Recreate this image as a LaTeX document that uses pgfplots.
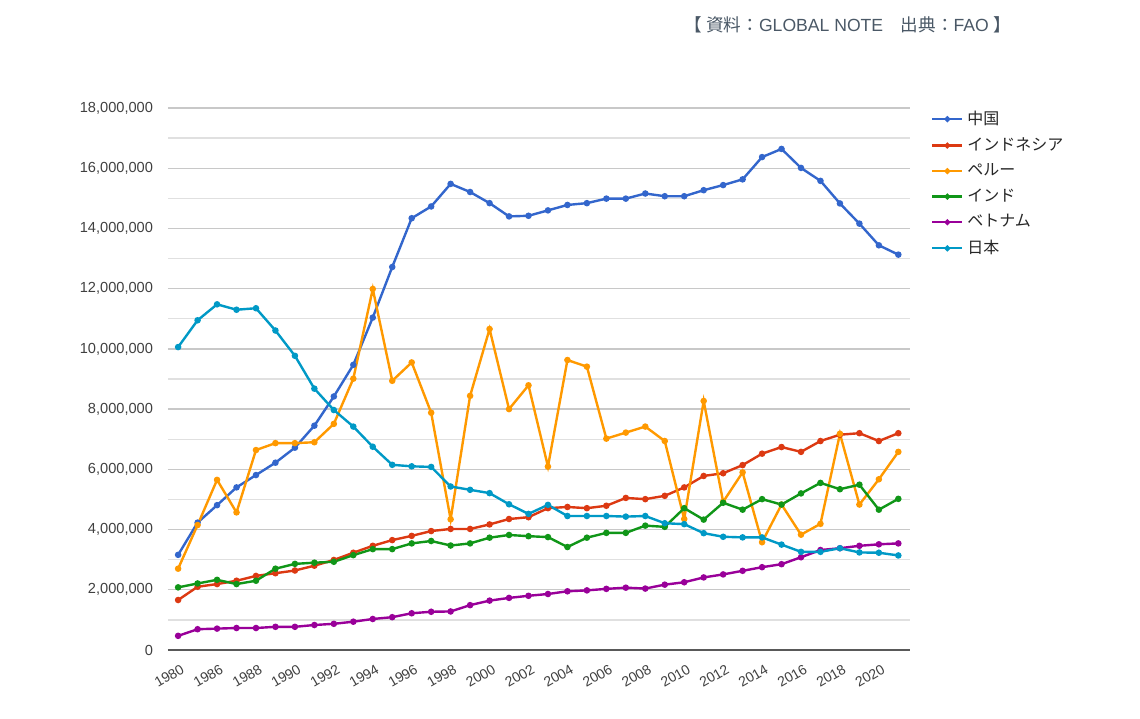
\documentclass[border=0pt]{standalone}
\usepackage{pgfplots}
\usepackage{pgfplotstable}
\pgfplotsset{compat=1.18}
\usepackage{fontspec}
\setmainfont{Liberation Sans}
\newfontfamily\cjk{Noto Sans CJK JP}
\definecolor{cChina}{HTML}{3366CC}
\definecolor{cIndonesia}{HTML}{DC3912}
\definecolor{cPeru}{HTML}{FF9900}
\definecolor{cIndia}{HTML}{109618}
\definecolor{cVietnam}{HTML}{990099}
\definecolor{cJapan}{HTML}{0099C6}
\definecolor{tickgray}{HTML}{404040}
\definecolor{titlegray}{HTML}{4A5866}
\definecolor{gridmajor}{HTML}{C8C8C8}
\definecolor{gridminor}{HTML}{E0E0E0}

\pgfplotstableread{
x China Indonesia Peru India Vietnam Japan
0 3160000 1660000 2700000 2080000 470000 10060000
1 4230000 2100000 4150000 2210000 690000 10950000
2 4810000 2190000 5650000 2330000 710000 11480000
3 5400000 2300000 4570000 2190000 730000 11300000
4 5810000 2460000 6640000 2300000 730000 11350000
5 6220000 2550000 6870000 2700000 770000 10610000
6 6720000 2640000 6870000 2860000 770000 9770000
7 7450000 2800000 6900000 2900000 830000 8680000
8 8420000 2990000 7510000 2930000 870000 7970000
9 9470000 3230000 9010000 3150000 940000 7420000
10 11040000 3460000 11990000 3350000 1030000 6750000
11 12720000 3650000 8940000 3350000 1090000 6150000
12 14340000 3790000 9550000 3540000 1220000 6100000
13 14730000 3950000 7880000 3620000 1270000 6080000
14 15480000 4020000 4340000 3470000 1280000 5430000
15 15210000 4020000 8440000 3540000 1490000 5320000
16 14840000 4170000 10660000 3730000 1640000 5210000
17 14400000 4350000 8000000 3820000 1730000 4840000
18 14420000 4410000 8790000 3780000 1800000 4520000
19 14600000 4710000 6090000 3750000 1860000 4820000
20 14780000 4750000 9630000 3420000 1950000 4450000
21 14840000 4710000 9410000 3730000 1980000 4450000
22 14990000 4790000 7020000 3890000 2030000 4450000
23 14990000 5050000 7220000 3890000 2070000 4430000
24 15160000 5010000 7420000 4130000 2040000 4450000
25 15070000 5120000 6940000 4090000 2170000 4210000
26 15070000 5400000 4350000 4710000 2250000 4180000
27 15270000 5780000 8270000 4330000 2410000 3880000
28 15440000 5870000 4920000 4890000 2510000 3760000
29 15630000 6140000 5900000 4660000 2630000 3740000
30 16370000 6520000 3580000 5010000 2750000 3740000
31 16640000 6740000 4830000 4830000 2850000 3500000
32 16010000 6580000 3830000 5200000 3080000 3260000
33 15580000 6940000 4190000 5550000 3320000 3260000
34 14830000 7150000 7180000 5340000 3380000 3380000
35 14160000 7200000 4830000 5490000 3460000 3240000
36 13440000 6940000 5670000 4660000 3510000 3230000
37 13130000 7200000 6580000 5020000 3540000 3140000
}\data

\begin{document}
\begin{tikzpicture}
\path[use as bounding box] (0pt,0pt) rectangle (570pt,359pt);
\begin{axis}[
  at={(84pt,34pt)}, anchor=south west,
  scale only axis, width=371pt, height=271pt,
  xmin=-0.52, xmax=37.6, ymin=0, ymax=18000000,
  xtick={0,2,...,36},
  xticklabels={1980,1986,1988,1990,1992,1994,1996,1998,2000,2002,2004,2006,2008,2010,2012,2014,2016,2018,2020},
  ytick={0,2000000,...,18000000},
  minor ytick={1000000,3000000,...,17000000},
  scaled y ticks=false,
  yticklabel style={/pgf/number format/fixed, /pgf/number format/1000 sep={,}, /pgf/number format/assume math mode=true},
  ymajorgrids, yminorgrids,
  major grid style={gridmajor, line width=0.7pt},
  minor grid style={gridminor, line width=0.7pt},
  major tick length=0pt, minor tick length=0pt,
  axis x line*=bottom, axis y line*=left,
  y axis line style={draw=none},
  x axis line style={-, draw=black!65, line width=1pt},
  y tick label style={font=\fontsize{7.3}{9}\selectfont, text=tickgray, anchor=east, xshift=-4pt},
  x tick label style={font=\fontsize{7}{8}\selectfont, text=tickgray, rotate=30, anchor=north east, xshift=1pt, yshift=-3pt},
  legend style={at={(rel axis cs:1.02,1.01)}, anchor=north west, draw=none, fill=none,
    font=\cjk\fontsize{8}{10}\selectfont, row sep=1.1pt, text=black!85},
  legend cell align=left,
  legend image code/.code={\draw[line width=1.1pt, mark size=0.9pt, mark repeat=2,mark phase=2] plot coordinates {(0pt,0pt) (7.5pt,0pt) (15pt,0pt)};},
  every axis plot/.append style={line width=1.2pt, mark=*, mark size=1.0pt},
]
\addplot[cChina, mark options={fill=cChina}] table[x=x,y=China]{\data};
\addlegendentry{中国}
\addplot[cIndonesia, mark options={fill=cIndonesia}] table[x=x,y=Indonesia]{\data};
\addlegendentry{インドネシア}
\addplot[cPeru, mark options={fill=cPeru}] table[x=x,y=Peru]{\data};
\addlegendentry{ペルー}
\addplot[cIndia, mark options={fill=cIndia}] table[x=x,y=India]{\data};
\addlegendentry{インド}
\addplot[cVietnam, mark options={fill=cVietnam}] table[x=x,y=Vietnam]{\data};
\addlegendentry{ベトナム}
\addplot[cJapan, mark options={fill=cJapan}] table[x=x,y=Japan]{\data};
\addlegendentry{日本}
\end{axis}
\node[text=titlegray, font=\fontsize{8.8}{10}\selectfont] at (424pt,346.5pt)
  {{\cjk 【\ 資料：}GLOBAL NOTE{\cjk 　出典：}FAO\ {\cjk 】}};
\end{tikzpicture}
\end{document}
